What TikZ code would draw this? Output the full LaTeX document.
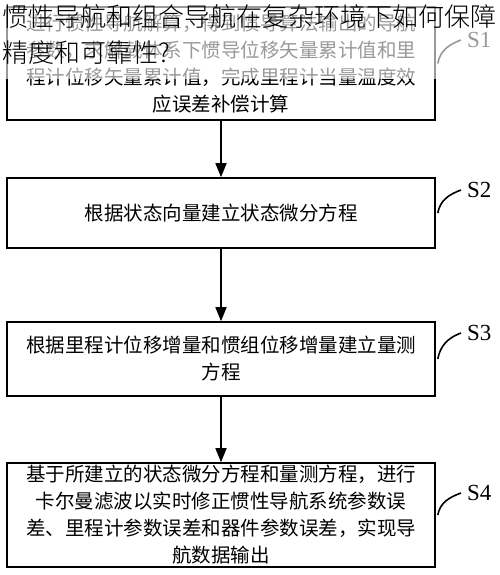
\documentclass[tikz,border=0pt]{standalone}
\usepackage{fontspec}
\setmainfont{Liberation Serif}
\newfontfamily\cjk{Noto Sans CJK SC}
\newfontfamily\cjklight{Noto Sans CJK SC Light}
\usetikzlibrary{arrows.meta}

\tikzset{
	stepbox/.style={draw, line width=1.6pt, minimum width=428pt, inner sep=0pt, align=center, font=\cjk\fontsize{19.5}{27}\selectfont},
	flow/.style={line width=1.6pt, -{Triangle[width=11pt,length=14pt]}},
	leader/.style={line width=1.6pt},
	steplabel/.style={font=\fontsize{23}{23}\selectfont, anchor=west, inner sep=0pt}
}

\begin{document}
\begin{tikzpicture}[x=1pt, y=-1pt]
	\useasboundingbox (0,0) rectangle (500,575);
	% the four steps
	\node[stepbox, minimum height=113pt] (b1) at (221,63.5) {进行惯性导航解算，得到惯导算法输出的导航\\参数，求解载体系下惯导位移矢量累计值和里\\程计位移矢量累计值，完成里程计当量温度效\\应误差补偿计算};
	\node[stepbox, minimum height=70pt] (b2) at (221,213) {根据状态向量建立状态微分方程};
	\node[stepbox, minimum height=74pt] (b3) at (221,359) {根据里程计位移增量和惯组位移增量建立量测\\方程};
	\node[stepbox, minimum height=104pt] (b4) at (221,515) {基于所建立的状态微分方程和量测方程，进行\\卡尔曼滤波以实时修正惯性导航系统参数误\\差、里程计参数误差和器件参数误差，实现导\\航数据输出};
	\draw[flow] (b1) -- (b2);
	\draw[flow] (b2) -- (b3);
	\draw[flow] (b3) -- (b4);
	% step labels
	\foreach \b/\y/\t in {b1/40/S1, b2/190/S2, b3/333/S3, b4/493/S4} {
		\node[steplabel] (l\b) at (467,\y) {\t};
		\draw[leader] ([xshift=2pt]\b.east) to[out=80, in=200] ([xshift=-6pt]l\b.west);
	}
	% overlaid question
	\fill[white, opacity=0.6] (0,0) rectangle (500,79);
	\node[anchor=north west, inner sep=0pt, align=left, font=\cjklight\fontsize{26}{36}\selectfont] (title) at (2,4) {惯性导航和组合导航在复杂环境下如何保障\\精度和可靠性?};
\end{tikzpicture}
\end{document}
